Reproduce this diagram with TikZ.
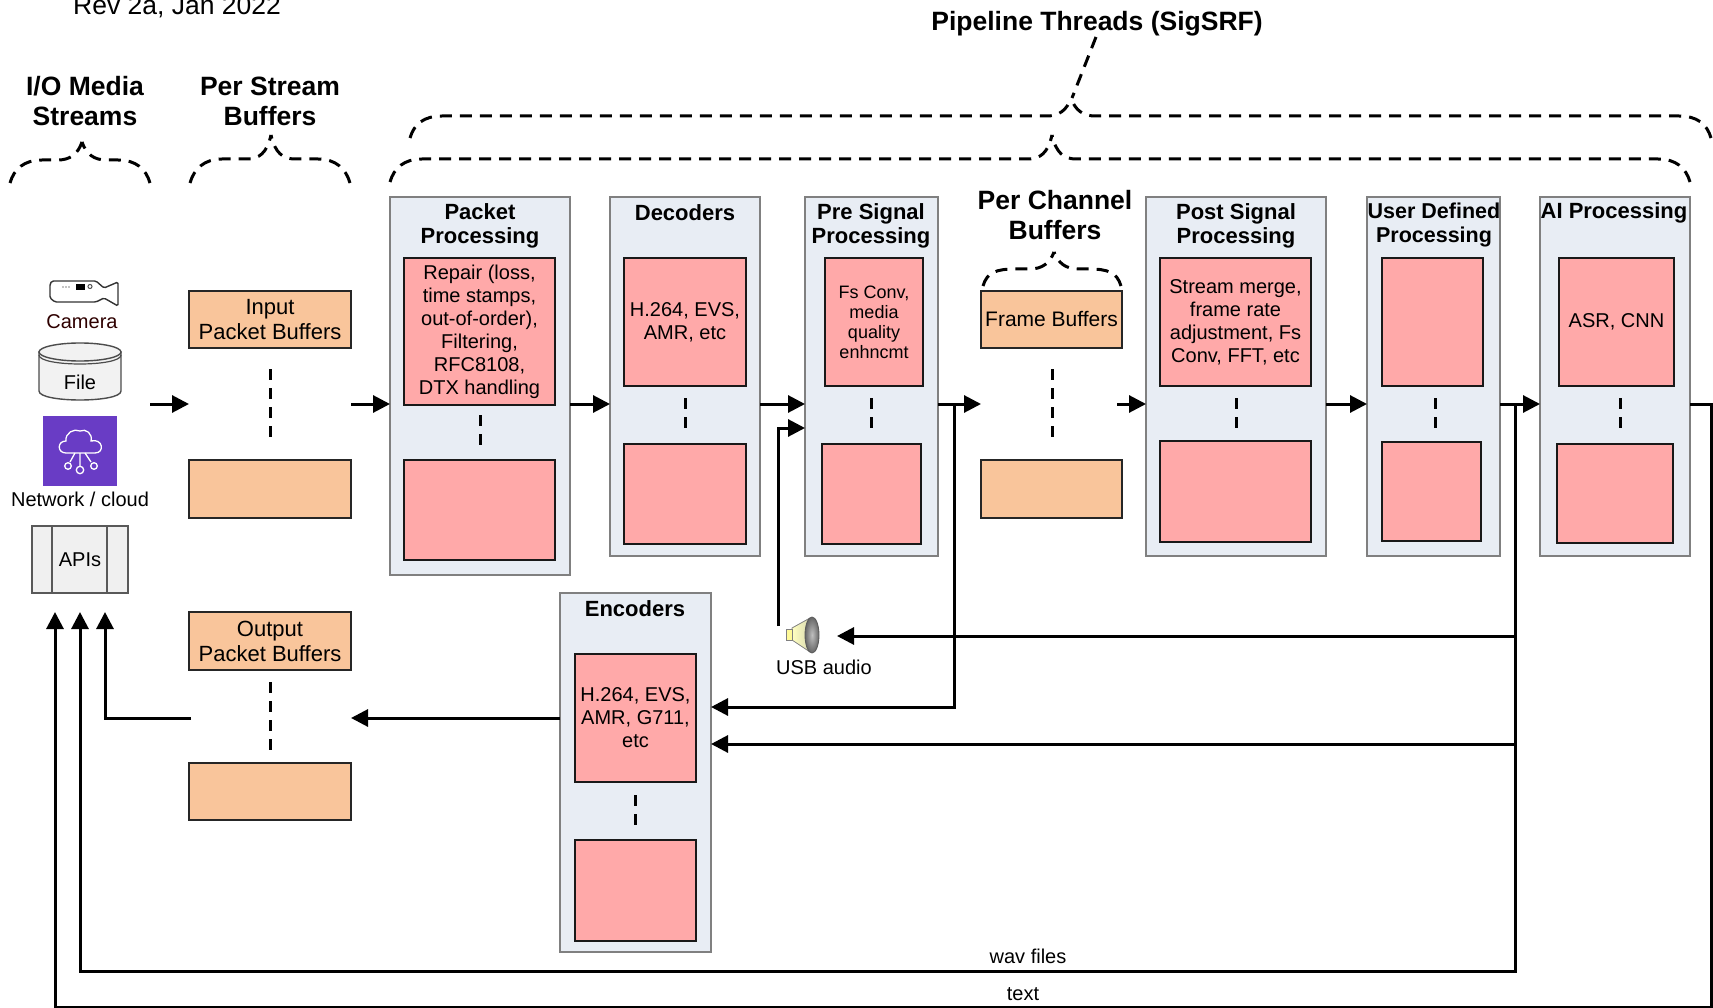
\documentclass[tikz,border=0pt]{standalone}
\usepackage{fontspec}
\setmainfont{Liberation Sans}
\usetikzlibrary{arrows.meta}
\definecolor{outerfill}{HTML}{E8EDF4}
\definecolor{innerfill}{HTML}{FFA9A9}
\definecolor{buffill}{HTML}{F9C59B}
\definecolor{awspurple}{HTML}{693CC5}
\newcommand\fnt[2]{\fontsize{#1}{#2}\selectfont}
\newcommand\bx[7]{\node[#1,minimum width={(#5-(#3))*1pt},minimum height={(#6-(#4))*1pt}] (#2) at ({(#3+#5)/2},{(#4+#6)/2}) {#7};}
\newcommand\dbrace[6]{% xl xr ytop ybot xtip ytip
  \draw[brc] (#1,#4) .. controls (#1+4,#4-14) and (#1+14,#3) .. (#1+32,#3) -- (#5-24,#3) .. controls (#5-12,#3) and (#5-4,#3-6) .. (#5,#6);
  \draw[brc] (#2,#4) .. controls (#2-4,#4-14) and (#2-14,#3) .. (#2-32,#3) -- (#5+24,#3) .. controls (#5+12,#3) and (#5+4,#3-6) .. (#5,#6);
}
\tikzset{
  outerbox/.style={draw=black!50,fill=outerfill,line width=1.5pt,inner sep=0pt,outer sep=0pt},
  innerbox/.style={draw=black!90,fill=innerfill,line width=2.2pt,inner sep=0pt,outer sep=0pt,align=center,font=\fnt{20}{23}},
  smallinner/.style={innerbox,font=\fnt{18}{20}},
  bufbox/.style={draw=black!85,fill=buffill,line width=2.5pt,inner sep=0pt,outer sep=0pt,align=center,font=\fnt{22}{25}},
  boxtitle/.style={inner sep=0pt,outer sep=0pt,align=center,font=\bfseries\fnt{22}{24.5}},
  headtitle/.style={inner sep=0pt,outer sep=0pt,align=center,font=\bfseries\fnt{26.5}{30}},
  plainlabel/.style={inner sep=0pt,outer sep=0pt,align=center,font=\fnt{20}{23}},
  conn/.style={line width=3pt,draw=black,miter limit=10},
  arr/.style={conn,-{Triangle[length=17pt,width=17pt]}},
  vdash/.style={line width=3pt,draw=black,dash pattern=on 11pt off 8pt},
  brc/.style={line width=3pt,draw=black,dash pattern=on 12pt off 8pt},
  icon/.style={draw=black!70,line width=1.4pt,fill=black!5}
}
\begin{document}
\begin{tikzpicture}[x=1pt,y=-1pt]
\useasboundingbox (0,0) rectangle (1713,1008);

% free-end and routing coordinates
\coordinate (row) at (0,404);
\coordinate (srcout) at (150,404);
\coordinate (tipa) at (55,612);
\coordinate (tipb) at (80,612);
\coordinate (tipc) at (105,612);
\coordinate (framestart) at (1117,404);
\coordinate (tap) at (954,404);
\coordinate (fbtap) at (1515,404);
\coordinate (usbtail) at (778,626);
\coordinate (usbrow) at (778,428);
\coordinate (pipetop) at (1096,37);
\coordinate (pipefoot) at (1072,98);

% heading texts
\node[plainlabel,anchor=base,font=\fnt{26.5}{30}] (rev) at (177,15) {Rev 2a, Jan 2022};
\node[headtitle] (pipe) at (1097,24) {Pipeline Threads (SigSRF)};
\node[headtitle] (iohead) at (85,101) {I/O Media\\Streams};
\node[headtitle] (pshead) at (270,101) {Per Stream\\Buffers};
\node[headtitle] (pchead) at (1055,215) {Per Channel\\Buffers};

% braces
\dbrace{10}{150}{160}{183}{82}{142}
\dbrace{190}{350}{159}{183}{271}{135}
\dbrace{390}{1690}{159}{182}{1052}{135}
\dbrace{410}{1711}{116}{138}{1071}{98}
\dbrace{983}{1121}{269}{286}{1054}{252}
\draw[brc] (pipetop) -- (pipefoot);

% containers
\bx{outerbox}{pp}{390}{197}{570}{575}{}
\bx{outerbox}{dec}{610}{197}{760}{556}{}
\bx{outerbox}{pre}{805}{197}{938}{556}{}
\bx{outerbox}{post}{1146}{197}{1326}{556}{}
\bx{outerbox}{user}{1367}{197}{1500}{556}{}
\bx{outerbox}{ai}{1540}{197}{1690}{556}{}
\bx{outerbox}{enc}{560}{593}{711}{952}{}

% container titles
\node[boxtitle] (pptitle) at (480,226) {Packet\\Processing};
\node[boxtitle] (dectitle) at (685,213) {Decoders};
\node[boxtitle] (pretitle) at (871,226) {Pre Signal\\Processing};
\node[boxtitle] (posttitle) at (1236,226) {Post Signal\\Processing};
\node[boxtitle,font=\bfseries\fnt{21.5}{24}] (usertitle) at (1434,225) {User Defined\\Processing};
\node[boxtitle] (aititle) at (1614,213) {AI Processing};
\node[boxtitle] (enctitle) at (635,609) {Encoders};

% inner boxes
\bx{innerbox}{pp1}{404}{258}{555}{405}{Repair (loss,\\time stamps,\\out-of-order),\\Filtering,\\RFC8108,\\DTX handling}
\bx{innerbox}{pp2}{404}{460}{555}{560}{}
\bx{innerbox}{dec1}{624}{258}{746}{386}{H.264, EVS,\\AMR, etc}
\bx{innerbox}{dec2}{624}{444}{746}{544}{}
\bx{smallinner}{pre1}{825}{258}{923}{386}{Fs Conv,\\media\\quality\\enhncmt}
\bx{innerbox}{pre2}{822}{444}{921}{544}{}
\bx{innerbox}{post1}{1160}{258}{1311}{386}{Stream merge,\\frame rate\\adjustment, Fs\\Conv, FFT, etc}
\bx{innerbox}{post2}{1160}{441}{1311}{542}{}
\bx{innerbox}{user1}{1382}{258}{1483}{386}{}
\bx{innerbox}{user2}{1382}{442}{1481}{541}{}
\bx{innerbox}{ai1}{1559}{258}{1674}{386}{ASR, CNN}
\bx{innerbox}{ai2}{1557}{444}{1673}{543}{}
\bx{innerbox}{enc1}{575}{654}{696}{782}{H.264, EVS,\\AMR, G711,\\etc}
\bx{innerbox}{enc2}{575}{840}{696}{941}{}

% buffers
\bx{bufbox}{ibuf1}{189}{291}{351}{348}{Input\\Packet Buffers}
\bx{bufbox}{ibuf2}{189}{460}{351}{518}{}
\bx{bufbox}{obuf1}{189}{612}{351}{670}{Output\\Packet Buffers}
\bx{bufbox}{obuf2}{189}{763}{351}{820}{}
\bx{bufbox,font=\fnt{21}{25}}{fbuf1}{981}{291}{1122}{348}{Frame Buffers}
\bx{bufbox}{fbuf2}{981}{460}{1122}{518}{}

% vertical ellipsis dashes
\draw[vdash] (ibuf1.south |- 0,369) -- (ibuf2.north |- 0,439);
\draw[vdash] (obuf1.south |- 0,682) -- (obuf2.north |- 0,752);
\draw[vdash] (1052,369) -- (1052,439);
\draw[vdash] (480,415) -- (480,448);
\draw[vdash] (685,398) -- (685,430);
\draw[vdash] (871,398) -- (871,430);
\draw[vdash] (1236,398) -- (1236,430);
\draw[vdash] (1435,398) -- (1435,430);
\draw[vdash] (1620,398) -- (1620,430);
\draw[vdash] (635,795) -- (635,827);

% camera
\draw[draw=black!80,line width=1.4pt,fill=white,rounded corners=1.5pt] (52,281) -- (96,281) -- (104,288) -- (118,282) -- (118,306) -- (104,298) -- (96,302) -- (55,302) -- (50,298) -- (50,284) -- cycle;
\fill[black] (63,287) circle (.7) (66,287) circle (.7) (69,287) circle (.7);
\fill[black] (75.5,284) rectangle (84.5,290);
\draw[black!70,line width=1pt] (90,286.5) circle (2);
\node[plainlabel,text=black!70!red!60!black] (camlabel) at (82,322) {Camera};

% file cylinder
\draw[icon] (39,352) -- (39,391) .. controls (39,403) and (121,403) .. (121,391) -- (121,352) -- cycle;
\draw[icon] (80,352) ellipse[x radius=41,y radius=9];
\draw[draw=black!70,line width=1.2pt] (39,355) .. controls (39,367) and (121,367) .. (121,355);
\node[plainlabel] (filelabel) at (80,382) {File};

% network / cloud
\fill[awspurple] (43,416) rectangle (117,486);
\draw[white,line width=1.3pt] (66,453) .. controls (57,453) and (57,441) .. (66,441) .. controls (65,433) and (74,428) .. (80,431) .. controls (86,428) and (93,434) .. (91,441) .. controls (103,438) and (105,453) .. (95,453) -- cycle;
\draw[white,line width=1.3pt] (80,453) -- (80,466) (75,453) -- (70,462) (85,453) -- (91,462);
\draw[white,line width=1.3pt] (80,470) circle (3.7) (68,466) circle (3.3) (94,466) circle (3.3);
\node[plainlabel] (netlabel) at (80,499) {Network / cloud};

% APIs
\bx{draw=black!65,fill=black!6,line width=1.5pt,inner sep=0pt,outer sep=0pt,font=\fnt{20}{23}}{apis}{32}{526}{128}{593}{APIs}
\draw[draw=black!65,line width=1.5pt] (52,526) -- (52,593) (107,526) -- (107,593);

% USB speaker
\shade[left color=yellow!25!white,right color=yellow!50!black!30!white,draw=black!50,line width=.8pt] (792,628) -- (810,618) -- (810,652) -- (792,640) -- cycle;
\fill[yellow!40!white,draw=black!50,line width=.8pt] (786,629) rectangle (792,640);
\shade[inner color=black!25,outer color=black!60,draw=black!65,line width=.8pt] (812,635) ellipse[x radius=7,y radius=18];
\node[plainlabel] (usblabel) at (824,667) {USB audio};

% forward connectors
\draw[arr] (srcout) -- (ibuf1.west |- row);
\draw[arr] (ibuf1.east |- row) -- (pp.west |- row);
\draw[arr] (pp.east |- row) -- (dec.west |- row);
\draw[arr] (dec.east |- row) -- (pre.west |- row);
\draw[arr] (pre.east |- row) -- (fbuf1.west |- row);
\draw[arr] (framestart) -- (post.west |- row);
\draw[arr] (post.east |- row) -- (user.west |- row);
\draw[arr] (user.east |- row) -- (ai.west |- row);

% encoder and feedback connectors
\draw[arr] (tap) -- (954,707) -- (enc.east |- 0,707);
\draw[arr] (usbtail) -- (usbrow) -- (pre.west |- usbrow);
\draw[arr] (fbtap) -- (1515,636) -- (837,636);
\draw[arr] (1515,744) -- (enc.east |- 0,744);
\draw[arr] (enc.west |- 0,718) -- (obuf1.east |- 0,718);
\draw[arr] (191,718) -- (105,718) -- (tipc);
\draw[arr] (fbtap) -- (1515,971) -- (80,971) -- (tipb);
\draw[arr] (ai.east |- row) -- (1711,404) -- (1711,1007) -- (55,1007) -- (tipa);

% connector labels
\node[plainlabel] (wavlabel) at (1028,956) {wav files};
\node[plainlabel] (textlabel) at (1023,994) {text};
\end{tikzpicture}
\end{document}
